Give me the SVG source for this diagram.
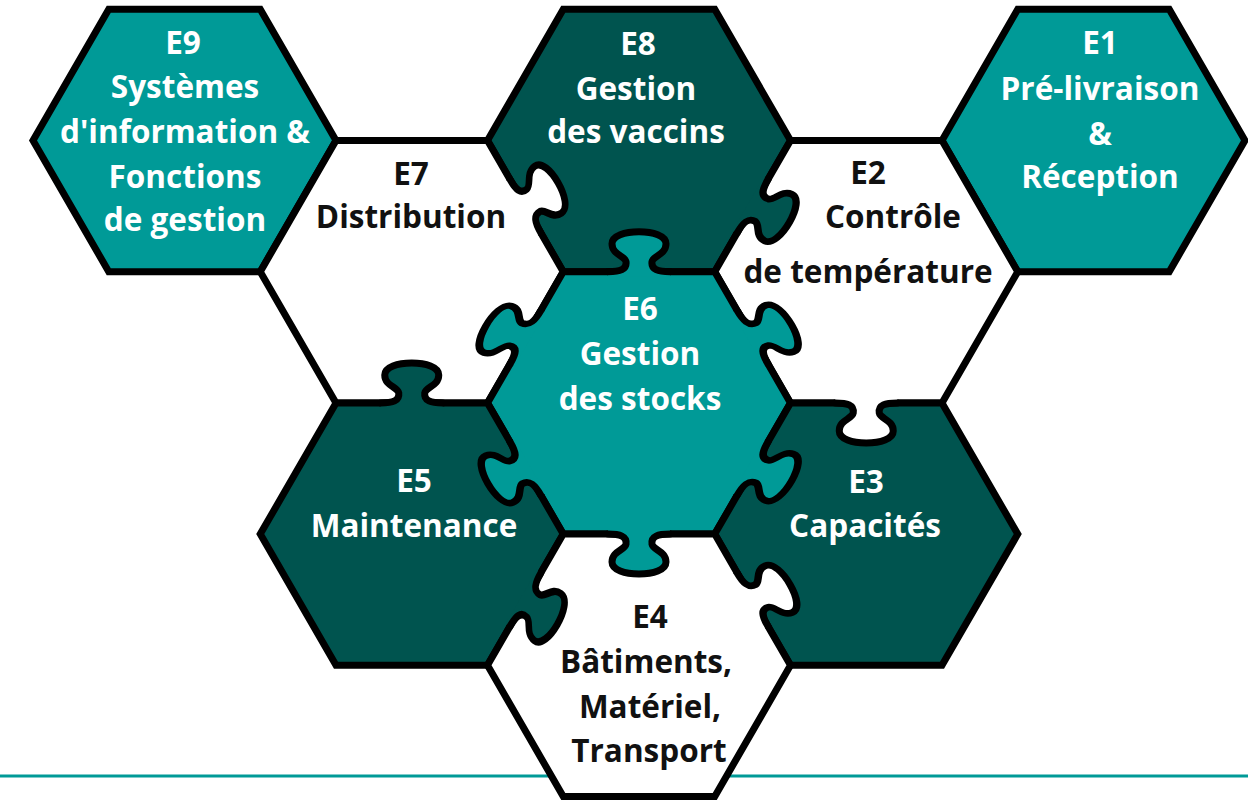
<svg xmlns="http://www.w3.org/2000/svg" xmlns:xlink="http://www.w3.org/1999/xlink" width="1248" height="801" viewBox="0 0 1248 801">
<style>
.hex{stroke:#000;stroke-width:7;stroke-linejoin:miter}
.teal{fill:#009a97}
.dark{fill:#00544f}
.white{fill:#fff}
.kl{fill:none;stroke:#000;stroke-width:7;stroke-linecap:round;stroke-linejoin:round}
text{font-family:"Open Sans",Lato,"Liberation Sans",sans-serif;font-weight:bold;font-size:31.5px;text-anchor:middle;font-variant-ligatures:none}
.tw{fill:#fff}
.tk{fill:#111}
</style>
<defs>
<polygon id="hex" points="-75.75,-131.2 75.75,-131.2 151.5,0 75.75,131.2 -75.75,131.2 -151.5,0"/>
<path id="knobFill" d="M-31,0 C-19,0 -12,-2 -13,-10 C-14,-16 -27,-17 -27,-28 C-27,-36 -14,-40 0,-40 C14,-40 27,-36 27,-28 C27,-17 14,-16 13,-10 C12,-2 19,0 31,0 L31,5 L-31,5 Z"/>
<path id="knobLine" d="M-31,0 C-19,0 -12,-2 -13,-10 C-14,-16 -27,-17 -27,-28 C-27,-36 -14,-40 0,-40 C14,-40 27,-36 27,-28 C27,-17 14,-16 13,-10 C12,-2 19,0 31,0"/>
</defs>
<line x1="0" y1="776" x2="1248" y2="776" stroke="#009a97" stroke-width="3"/>
<g id="E9"><use xlink:href="#hex" class="hex teal" transform="translate(184.5,140.5)"/></g>
<g id="E8"><use xlink:href="#hex" class="hex dark" transform="translate(639,140.5)"/></g>
<g id="E1"><use xlink:href="#hex" class="hex teal" transform="translate(1093.5,140.5)"/></g>
<g id="E7"><use xlink:href="#hex" class="hex white" transform="translate(411.75,271.7)"/></g>
<g id="E2"><use xlink:href="#hex" class="hex white" transform="translate(866.25,271.7)"/></g>
<g id="E6"><use xlink:href="#hex" class="hex teal" transform="translate(639,402.9)"/></g>
<g id="E5"><use xlink:href="#hex" class="hex dark" transform="translate(411.75,534.1)"/></g>
<g id="E3"><use xlink:href="#hex" class="hex dark" transform="translate(866.25,534.1)"/></g>
<g id="E4"><use xlink:href="#hex" class="hex white" transform="translate(639,665.3)"/></g>
<g id="knobs">
<g transform="translate(525.4,206.1) rotate(60) skewX(6)"><use xlink:href="#knobFill" class="white"/><use xlink:href="#knobLine" class="kl"/></g>
<g transform="translate(752.6,206.1) rotate(120) skewX(6)"><use xlink:href="#knobFill" class="dark"/><use xlink:href="#knobLine" class="kl"/></g>
<g transform="translate(639,271.7)"><use xlink:href="#knobFill" class="teal"/><use xlink:href="#knobLine" class="kl"/></g>
<g transform="translate(525.4,337.3) rotate(-60) skewX(14)"><use xlink:href="#knobFill" class="teal"/><use xlink:href="#knobLine" class="kl"/></g>
<g transform="translate(752.6,337.3) rotate(60) skewX(-12)"><use xlink:href="#knobFill" class="teal"/><use xlink:href="#knobLine" class="kl"/></g>
<g transform="translate(525.4,468.5) rotate(240) skewX(-8)"><use xlink:href="#knobFill" class="teal"/><use xlink:href="#knobLine" class="kl"/></g>
<g transform="translate(752.6,468.5) rotate(120) skewX(12)"><use xlink:href="#knobFill" class="teal"/><use xlink:href="#knobLine" class="kl"/></g>
<g transform="translate(639,534.1) rotate(180)"><use xlink:href="#knobFill" class="teal"/><use xlink:href="#knobLine" class="kl"/></g>
<g transform="translate(411.75,402.9)"><use xlink:href="#knobFill" class="dark"/><use xlink:href="#knobLine" class="kl"/></g>
<g transform="translate(525.4,599.7) rotate(120) skewX(-8)"><use xlink:href="#knobFill" class="dark"/><use xlink:href="#knobLine" class="kl"/></g>
<g transform="translate(866.25,402.9) rotate(180)"><use xlink:href="#knobFill" class="white"/><use xlink:href="#knobLine" class="kl"/></g>
<g transform="translate(752.6,599.7) rotate(60) skewX(-8)"><use xlink:href="#knobFill" class="white"/><use xlink:href="#knobLine" class="kl"/></g>
</g>
<g id="labels">
<text class="tw" x="183" y="54">E9</text>
<text class="tw" x="185" y="98">Systèmes</text>
<text class="tw" x="185" y="143">d'information &amp;</text>
<text class="tw" x="185" y="188">Fonctions</text>
<text class="tw" x="185" y="231">de gestion</text>
<text class="tw" x="638" y="55">E8</text>
<text class="tw" x="636" y="100">Gestion</text>
<text class="tw" x="636" y="143">des vaccins</text>
<text class="tw" x="1100" y="54">E1</text>
<text class="tw" x="1100" y="100">Pré-livraison</text>
<text class="tw" x="1100" y="145">&amp;</text>
<text class="tw" x="1100" y="188">Réception</text>
<text class="tk" x="411" y="185">E7</text>
<text class="tk" x="411" y="228">Distribution</text>
<text class="tk" x="868" y="184">E2</text>
<text class="tk" x="893" y="228">Contrôle</text>
<text class="tk" x="868" y="283">de température</text>
<text class="tw" x="640" y="320">E6</text>
<text class="tw" x="640" y="365">Gestion</text>
<text class="tw" x="640" y="410">des stocks</text>
<text class="tw" x="414" y="492">E5</text>
<text class="tw" x="414" y="537">Maintenance</text>
<text class="tw" x="866" y="493">E3</text>
<text class="tw" x="865" y="537">Capacités</text>
<text class="tk" x="650" y="628">E4</text>
<text class="tk" x="646" y="673">Bâtiments,</text>
<text class="tk" x="650" y="718">Matériel,</text>
<text class="tk" x="649" y="762">Transport</text>
</g>
</svg>
